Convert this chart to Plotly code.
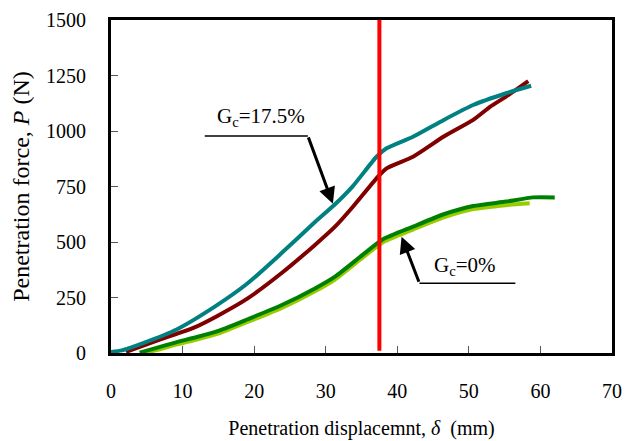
import plotly.graph_objects as go

# ---- data ----
teal_x = [0, 1.5, 4.5, 9.1, 14.5, 19.1, 23.8, 28.5, 31.3, 33.8, 37.1, 38.5, 42.2, 46.5, 50.6, 55.2, 58.7]
teal_y = [5, 12, 45, 105, 209, 314, 449, 590, 670, 752, 884, 922, 974, 1050, 1117, 1170, 1204]

maroon_x = [2.1, 6.8, 11.5, 14.8, 19.1, 23.8, 28.5, 31.3, 33.8, 37.1, 38.5, 42.2, 46.5, 50.6, 53.0, 55.2, 58.3]
maroon_y = [5, 60, 113, 166, 246, 359, 487, 569, 659, 787, 832, 884, 975, 1050, 1110, 1155, 1225]

green_x = [4.0, 6.0, 9.1, 12.0, 15.2, 19.1, 23.8, 28.5, 31.3, 35.2, 38.0, 42.2, 46.5, 50.6, 55.2, 59.0, 62.0]
green_y = [2, 20, 48, 72, 102, 152, 215, 291, 344, 443, 512, 569, 625, 662, 682, 701, 701]

lime_x = [4.5, 6.5, 9.1, 12.0, 15.2, 19.1, 23.8, 28.5, 31.3, 35.2, 38.0, 42.2, 46.5, 50.6, 55.2, 58.5]
lime_y = [0, 14, 38, 61, 90, 140, 202, 278, 331, 430, 499, 556, 611, 648, 666, 674]

cut_x = [37.5, 37.5]
cut_y = [10, 1510]

x_ticks = [0, 10, 20, 30, 40, 50, 60, 70]
y_ticks = [0, 250, 500, 750, 1000, 1250, 1500]

FONT = "Liberation Serif, Times New Roman, serif"
FS = 20

fig = go.Figure()
for xs, ys, col in [(lime_x, lime_y, "#99CC00"), (green_x, green_y, "#008000"),
                    (maroon_x, maroon_y, "#800000"), (teal_x, teal_y, "#008080")]:
    fig.add_trace(go.Scatter(x=xs, y=ys, mode="lines",
                             line=dict(color=col, width=4, shape="spline", smoothing=0.6),
                             showlegend=False))
fig.add_trace(go.Scatter(x=cut_x, y=cut_y, mode="lines", cliponaxis=False,
                         line=dict(color="#FF0000", width=4), showlegend=False))

# annotation leader lines (underlines)
fig.add_shape(type="line", x0=13.1, x1=27.5, y0=978, y1=978,
              line=dict(color="black", width=1.5))
fig.add_shape(type="line", x0=43.1, x1=56.5, y0=314, y1=314,
              line=dict(color="black", width=1.5))

# arrows
fig.add_annotation(x=31.0, y=672, ax=27.5, ay=978, axref="x", ayref="y",
                   xref="x", yref="y", text="", showarrow=True,
                   arrowhead=2, arrowsize=1.1, arrowwidth=3, arrowcolor="black")
fig.add_annotation(x=40.6, y=524, ax=43.1, ay=314, axref="x", ayref="y",
                   xref="x", yref="y", text="", showarrow=True,
                   arrowhead=2, arrowsize=1.1, arrowwidth=3, arrowcolor="black")

# labels
fig.add_annotation(x=21.0, y=1062, xref="x", yref="y", text="G<sub>c</sub>=17.5%",
                   showarrow=False, font=dict(family=FONT, size=21, color="black"))
fig.add_annotation(x=49.4, y=390, xref="x", yref="y", text="G<sub>c</sub>=0%",
                   showarrow=False, font=dict(family=FONT, size=21, color="black"))

fig.update_xaxes(range=[0, 70], tickvals=x_ticks, ticks="inside", ticklen=7,
                 tickwidth=1, tickcolor="#555555", showline=True, linewidth=3,
                 linecolor="black", mirror=True, showgrid=False, zeroline=False,
                 ticklabelstandoff=18, automargin=False,
                 title=dict(text="Penetration displacemnt, <i>δ</i>  (mm)", standoff=20,
                            font=dict(family=FONT, size=FS, color="black")),
                 tickfont=dict(family=FONT, size=FS, color="black"))
fig.update_yaxes(range=[0, 1500], tickvals=y_ticks, ticks="inside", ticklen=7,
                 tickwidth=1, tickcolor="#555555", showline=True, linewidth=3,
                 linecolor="black", mirror=True, showgrid=False, zeroline=False,
                 ticklabelstandoff=18, automargin=False,
                 title=dict(text="Penetration force, <i>P</i> (N)", standoff=10,
                            font=dict(family=FONT, size=24, color="black")),
                 tickfont=dict(family=FONT, size=FS, color="black"))

fig.update_layout(width=628, height=441, margin=dict(l=111, r=16, t=20, b=88),
                  plot_bgcolor="white", paper_bgcolor="white",
                  font=dict(family=FONT, size=FS, color="black"))

fig.write_html("out.html")
